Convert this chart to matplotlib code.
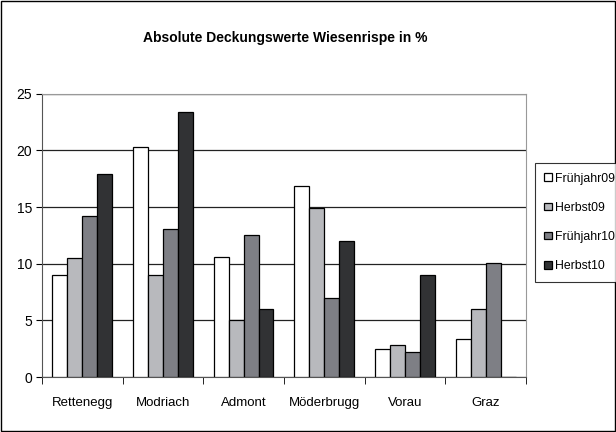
import numpy as np
import matplotlib.pyplot as plt
from matplotlib.patches import Rectangle

plt.rcParams['font.family'] = ['Liberation Sans', 'DejaVu Sans']

orte = ['Rettenegg', 'Modriach', 'Admont', 'Möderbrugg', 'Vorau', 'Graz']
fruehjahr09 = [9.0, 20.3, 10.6, 16.9, 2.5, 3.4]
herbst09 = [10.5, 9.0, 5.0, 14.9, 2.8, 6.0]
fruehjahr10 = [14.2, 13.1, 12.5, 7.0, 2.2, 10.1]
herbst10 = [17.9, 23.4, 6.0, 12.0, 9.0, 0.0]

serien = [('Frühjahr09', fruehjahr09, '#ffffff'),
          ('Herbst09', herbst09, '#b8b9bd'),
          ('Frühjahr10', fruehjahr10, '#7e7f85'),
          ('Herbst10', herbst10, '#313234')]

fig = plt.figure(figsize=(6.16, 4.32), dpi=100)
ax = fig.add_axes([0.068, 0.127, 0.786, 0.656])

x = np.arange(len(orte))
w = 0.185
for i, (name, vals, col) in enumerate(serien):
    ax.bar(x + (i - 1.5) * w, vals, w, color=col, edgecolor='black',
           linewidth=0.9, label=name, zorder=3)

ax.set_xlim(-0.5, len(orte) - 0.5)
ax.set_ylim(0, 25)
ax.set_yticks(range(0, 26, 5))
ax.set_xticks(x)
ax.set_xticklabels(orte, fontsize=9.5)
ax.tick_params(axis='y', labelsize=10, length=4, direction='out', pad=3)
ax.tick_params(axis='x', length=0, pad=14)
# Trennstriche zwischen den Kategorien
ax.set_xticks(np.arange(-0.5, len(orte), 1), minor=True)
ax.tick_params(axis='x', which='minor', length=5, direction='out')
ax.yaxis.grid(True, color='#222222', linewidth=0.9, zorder=0)
ax.set_axisbelow(True)
for s in ['top', 'right']:
    ax.spines[s].set_color('#999999')
ax.spines['left'].set_color('#555555')
ax.spines['bottom'].set_color('#555555')

fig.text(0.463, 0.912, 'Absolute Deckungswerte Wiesenrispe in %',
         ha='center', va='center', fontsize=10, fontweight='bold')

leg = fig.legend(loc='upper left', bbox_to_anchor=(0.868, 0.623),
                 fontsize=8.8, frameon=True, fancybox=False,
                 handlelength=0.6, handleheight=0.6, handletextpad=0.25,
                 labelspacing=1.4, borderpad=0.8, borderaxespad=0)
leg.get_frame().set_edgecolor('black')
leg.get_frame().set_linewidth(0.8)

# Rahmen um das ganze Diagramm
fig.patches.append(Rectangle((0.002, 0.002), 0.996, 0.996, transform=fig.transFigure,
                             fill=False, edgecolor='black', linewidth=1))

plt.savefig('out.png', dpi=100)
